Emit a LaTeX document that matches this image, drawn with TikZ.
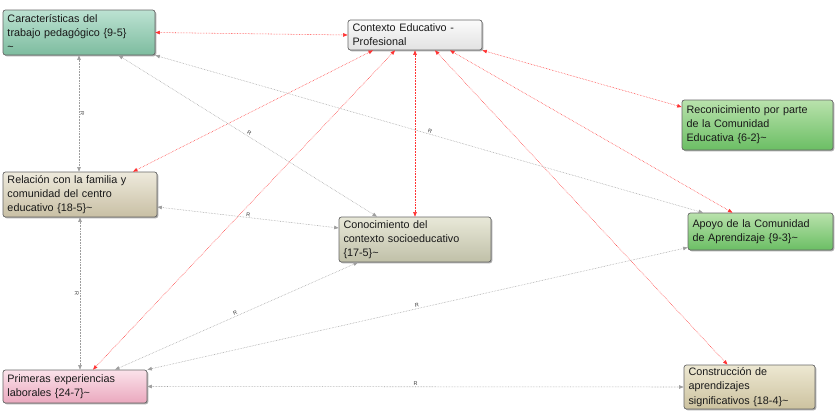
\documentclass[tikz,border=0pt]{standalone}
\usepackage{fontspec}
\setmainfont{Liberation Sans}
\usetikzlibrary{arrows.meta,calc,shadows}
\begin{document}
\begin{tikzpicture}[x=1pt,y=-1pt]
\tikzset{
  box/.style={draw=black!60, line width=0.7pt, rounded corners=2.5pt, align=left,
    inner xsep=4.5pt, inner ysep=1.5pt, font=\fontsize{10.8}{14.2}\selectfont, text=black!90,
    drop shadow={shadow xshift=1.3pt, shadow yshift=-1.3pt, opacity=.45, fill=black!70}},
  redlink/.style={draw=red!80!white, densely dotted, line width=0.55pt,
    {Triangle[length=4.5pt,width=3.5pt]}-{Triangle[length=4.5pt,width=3.5pt]}},
  greylink/.style={draw=black!38, densely dotted, line width=0.55pt,
    {Triangle[length=4.5pt,width=3.5pt]}-{Triangle[length=4.5pt,width=3.5pt]}},
  lab/.style={font=\fontsize{5.5}{6}\selectfont, text=black!75, sloped, inner sep=1pt}
}
\definecolor{carT}{HTML}{BCE2D2}\definecolor{carB}{HTML}{7DBC9F}
\definecolor{ctxT}{HTML}{FBFBFB}\definecolor{ctxB}{HTML}{E2E2E2}
\definecolor{grnT}{HTML}{B9E2AC}\definecolor{grnB}{HTML}{6BBE64}
\definecolor{relT}{HTML}{EEEADC}\definecolor{relB}{HTML}{C8BFA4}
\definecolor{conT}{HTML}{E8E8D8}\definecolor{conB}{HTML}{C0C0A8}
\definecolor{priT}{HTML}{FBE2EA}\definecolor{priB}{HTML}{EAA8BE}
\definecolor{cstT}{HTML}{EDE8D2}\definecolor{cstB}{HTML}{CCC29F}
\fill[white] (0,0) rectangle (836,410);
\useasboundingbox (0,0) rectangle (836,410);

\node[box, top color=carT, bottom color=carB, minimum width=152pt, minimum height=45pt, text width=143pt] (car) at (79,32.5)
  {Características del\\trabajo pedagógico \{9-5\}\\\textasciitilde};
\node[box, top color=ctxT, bottom color=ctxB, minimum width=134pt, minimum height=30pt, text width=125pt] (ctx) at (415,35)
  {Contexto Educativo -\\Profesional};
\node[box, top color=grnT, bottom color=grnB, minimum width=151pt, minimum height=50pt, text width=142pt] (rec) at (757.5,125)
  {Reconicimiento por parte\\de la Comunidad\\Educativa \{6-2\}\textasciitilde};
\node[box, top color=relT, bottom color=relB, minimum width=154pt, minimum height=45pt, text width=145pt] (rel) at (80,194.5)
  {Relación con la familia y\\comunidad del centro\\educativo \{18-5\}\textasciitilde};
\node[box, top color=conT, bottom color=conB, minimum width=152pt, minimum height=45pt, text width=143pt] (con) at (415,239.5)
  {Conocimiento del\\contexto socioeducativo\\\{17-5\}\textasciitilde};
\node[box, top color=grnT, bottom color=grnB, minimum width=145pt, minimum height=37pt, text width=136pt] (apo) at (760.5,231.5)
  {Apoyo de la Comunidad\\de Aprendizaje \{9-3\}\textasciitilde};
\node[box, top color=priT, bottom color=priB, minimum width=144pt, minimum height=33pt, text width=135pt] (pri) at (75,386.5)
  {Primeras experiencias\\laborales \{24-7\}\textasciitilde};
\node[box, top color=cstT, bottom color=cstB, minimum width=131pt, minimum height=44pt, text width=122pt] (cst) at (749.5,387)
  {Construcción de\\aprendizajes\\significativos \{18-4\}\textasciitilde};

% red links from Contexto
\draw[redlink] (car.east) -- (ctx.west);
\draw[redlink] (ctx.south east) -- ($(rec.west)+(0,-18)$);
\draw[redlink] ($(ctx.south)+(-42,0)$) -- ($(rel.north)+(53,0)$);
\draw[redlink] ($(ctx.south)+(-20,0)$) -- ($(pri.north)+(18,0)$);
\draw[redlink] (ctx.south) -- (con.north);
\draw[redlink] ($(ctx.south)+(20,0)$) -- ($(cst.north)+(-22,0)$);
\draw[redlink] ($(ctx.south)+(35,0)$) -- ($(apo.north)+(-28,0)$);

% grey links
\draw[greylink] (car.south) -- node[lab, above] {R} (car.south |- rel.north);
\draw[greylink] ($(car.south)+(39.5,0)$) -- node[lab, above] {R} ($(con.north)+(-38,0)$);
\draw[greylink] (car.south east) -- node[lab, above] {R} ($(apo.north)+(-57.5,0)$);
\draw[greylink] ($(rel.east)+(0,12.5)$) -- node[lab, above] {R} ($(con.west)+(0,-11.5)$);
\draw[greylink] (rel.south) -- node[lab, below] {R} (rel.south |- pri.north);
\draw[greylink] ($(con.south)+(-57,0)$) -- node[lab, above] {R} ($(pri.north)+(40,0)$);
\draw[greylink] ($(apo.west)+(0,16)$) -- node[lab, above] {R} (pri.north east);
\draw[greylink] (pri.east) -- node[lab, above] {R} (cst.west);
\end{tikzpicture}
\end{document}
